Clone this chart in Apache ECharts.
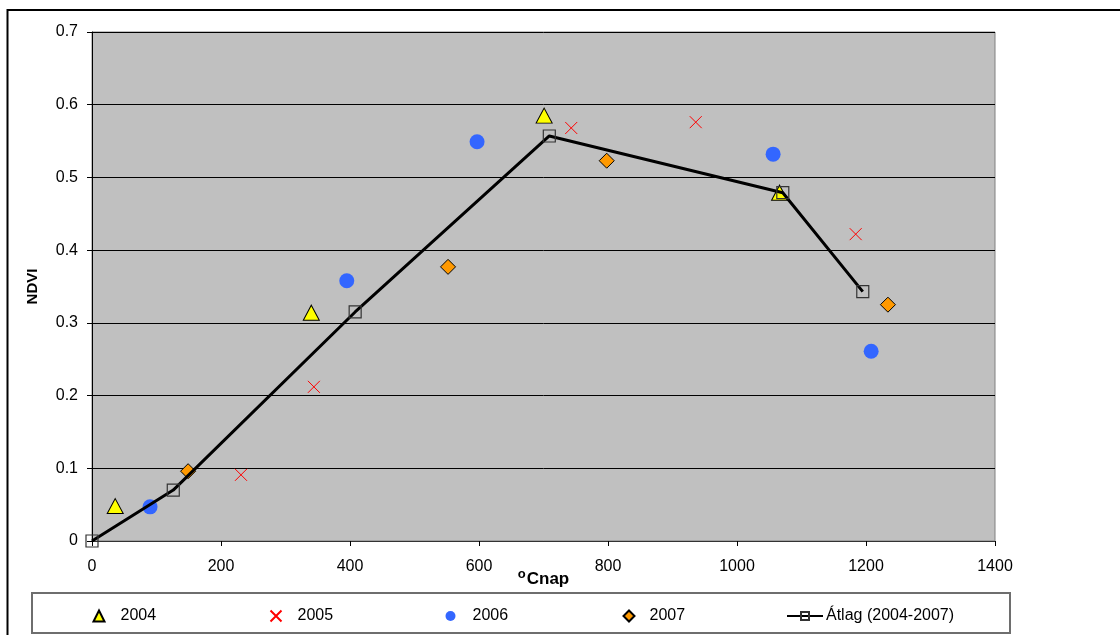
<!DOCTYPE html>
<html>
<head>
<meta charset="utf-8">
<script src="https://cdn.jsdelivr.net/npm/echarts@6/dist/echarts.min.js"></script>
<style>
  html, body { margin: 0; padding: 0; background: #fff; }
  #main { width: 1120px; height: 635px; }
</style>
</head>
<body>
<div id="main"></div>
<script>
  // adatok
  var x2004 = [36, 340, 701, 1066]
  var y2004 = [0.048, 0.314, 0.585, 0.479]
  var x2005 = [231, 344, 743, 936, 1184]
  var y2005 = [0.091, 0.212, 0.568, 0.576, 0.422]
  var x2006 = [90, 395, 597, 1056, 1208]
  var y2006 = [0.047, 0.358, 0.549, 0.532, 0.261]
  var x2007 = [149, 552, 798, 1234]
  var y2007 = [0.096, 0.377, 0.523, 0.325]
  var xAvg = [0, 126, 408, 709, 1071, 1195]
  var yAvg = [0, 0.070, 0.315, 0.557, 0.479, 0.343]
  var seriesNames = ['2004', '2005', '2006', '2007', 'Átlag (2004-2007)']

  function pairs(xs, ys) {
    return xs.map(function(v, i) { return [v, ys[i]] })
  }

  var font = 'Liberation Sans'
  var crossPath = 'path://M0,0L10,10M10,0L0,10'

  function legendAt(name, left, pad, w, h) {
    return {
      data: [name],
      left: left,
      top: 608,
      padding: 0,
      itemWidth: w,
      itemHeight: h,
      selectedMode: false,
      textStyle: { fontFamily: font, fontSize: 16, color: '#000', padding: [0, 0, 0, pad] }
    }
  }

  var chart = echarts.init(document.getElementById('main'))
  chart.setOption({
    animation: false,
    backgroundColor: '#fff',
    grid: {
      left: 92, top: 32, right: 125, bottom: 94,
      show: true,
      backgroundColor: '#C0C0C0',
      borderColor: '#808080',
      borderWidth: 1
    },
    graphic: [
      { type: 'rect', shape: { x: 7.5, y: 10, width: 1300, height: 800 },
        style: { fill: 'none', stroke: '#000', lineWidth: 2 }, silent: true },
      { type: 'rect', shape: { x: 32, y: 593, width: 978, height: 40 },
        style: { fill: 'none', stroke: '#6e6e6e', lineWidth: 2 }, silent: true }
    ],
    legend: [
      legendAt(seriesNames[0], 92.5, 11, 11, 11),
      legendAt(seriesNames[1], 269.5, 11, 11, 11),
      legendAt(seriesNames[2], 445.5, 12, 10, 10),
      legendAt(seriesNames[3], 622.5, 10, 11, 11),
      legendAt(seriesNames[4], 786, -2, 36, 10)
    ],
    xAxis: {
      type: 'value',
      min: 0, max: 1400, interval: 200,
      name: '{o|o}{b|Cnap}',
      nameLocation: 'middle',
      nameGap: 27,
      nameMoveOverlap: false,
      nameTextStyle: {
        rich: {
          o: { fontFamily: font, fontSize: 13, fontWeight: 'bold', color: '#000', padding: [0, 1, 10, 0] },
          b: { fontFamily: font, fontSize: 17, fontWeight: 'bold', color: '#000' }
        }
      },
      axisLine: { onZero: false, lineStyle: { color: '#333', width: 1 } },
      axisTick: { show: true, inside: false, length: 5, lineStyle: { color: '#000' } },
      axisLabel: {
        margin: 18, fontFamily: font, fontSize: 16, color: '#000',
        formatter: function(v) { return String(v) }
      },
      splitLine: { show: false }
    },
    yAxis: {
      type: 'value',
      min: 0, max: 0.7, interval: 0.1,
      name: 'NDVI',
      nameLocation: 'middle',
      nameGap: 52,
      nameMoveOverlap: false,
      nameTextStyle: { fontFamily: font, fontSize: 15, fontWeight: 'bold', color: '#000' },
      axisLine: { show: true, lineStyle: { color: '#000', width: 1 } },
      axisTick: { show: true, inside: false, length: 5, lineStyle: { color: '#000' } },
      axisLabel: { margin: 14, fontFamily: font, fontSize: 16, color: '#000' },
      splitLine: { show: true, lineStyle: { color: '#000', width: 1 } }
    },
    series: [
      {
        name: seriesNames[0], type: 'scatter', symbol: 'triangle', symbolSize: [16, 15],
        itemStyle: { color: '#FFFF00', borderColor: '#000', borderWidth: 1, opacity: 1 },
        data: pairs(x2004, y2004)
      },
      {
        name: seriesNames[1], type: 'scatter', symbol: crossPath, symbolSize: 12,
        itemStyle: { color: 'rgba(0,0,0,0)', borderColor: '#FF0000', borderWidth: 1, opacity: 1 },
        data: pairs(x2005, y2005)
      },
      {
        name: seriesNames[2], type: 'scatter', symbol: 'circle', symbolSize: 15,
        itemStyle: { color: '#3366FF', opacity: 1 },
        data: pairs(x2006, y2006)
      },
      {
        name: seriesNames[3], type: 'scatter', symbol: 'diamond', symbolSize: 15,
        itemStyle: { color: '#FF9900', borderColor: '#000', borderWidth: 1, opacity: 1 },
        data: pairs(x2007, y2007)
      },
      {
        name: seriesNames[4], type: 'line', symbol: 'rect', symbolSize: 12,
        showAllSymbol: true,
        lineStyle: { color: '#000', width: 3 },
        itemStyle: { color: 'rgba(0,0,0,0)', borderColor: '#333', borderWidth: 1.2 },
        data: pairs(xAvg, yAvg)
      }
    ]
  })
</script>
</body>
</html>
